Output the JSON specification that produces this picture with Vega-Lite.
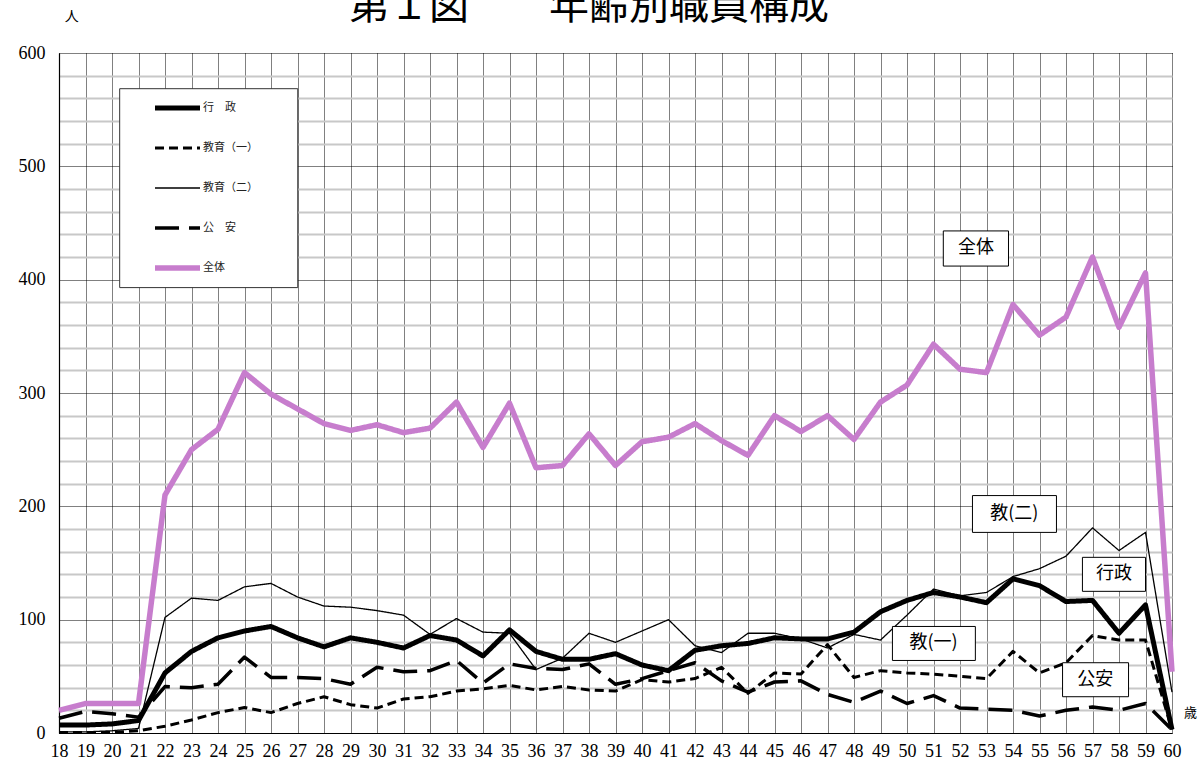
{
  "$schema": "https://vega.github.io/schema/vega-lite/v6.json",
  "width": 1113,
  "height": 680,
  "autosize": {"type": "none"},
  "padding": {"left": 59, "top": 53, "right": 29, "bottom": 36},
  "background": "white",
  "config": {"view": {"stroke": null}, "font": "Noto Sans CJK JP"},
  "resolve": {"axis": {"x": "independent", "y": "independent"}},
  "datasets": {
    "d": [
      {"age": 18, "行　政": 7, "教育（一）": 0.5, "教育（二）": 1, "公　安": 13, "全体": 20},
      {"age": 19, "行　政": 7, "教育（一）": 0.5, "教育（二）": 1, "公　安": 19, "全体": 26},
      {"age": 20, "行　政": 8, "教育（一）": 0.5, "教育（二）": 2, "公　安": 17, "全体": 26},
      {"age": 21, "行　政": 11, "教育（一）": 2, "教育（二）": 4, "公　安": 14, "全体": 26},
      {"age": 22, "行　政": 53, "教育（一）": 6, "教育（二）": 102, "公　安": 41, "全体": 210},
      {"age": 23, "行　政": 72, "教育（一）": 11.5, "教育（二）": 119, "公　安": 40, "全体": 250},
      {"age": 24, "行　政": 84, "教育（一）": 18, "教育（二）": 117, "公　安": 43, "全体": 268},
      {"age": 25, "行　政": 90, "教育（一）": 22.5, "教育（二）": 129, "公　安": 67, "全体": 318},
      {"age": 26, "行　政": 94, "教育（一）": 18, "教育（二）": 132, "公　安": 49, "全体": 299},
      {"age": 27, "行　政": 84, "教育（一）": 26, "教育（二）": 120, "公　安": 49, "全体": 286},
      {"age": 28, "行　政": 76, "教育（一）": 32, "教育（二）": 112, "公　安": 48, "全体": 273},
      {"age": 29, "行　政": 84, "教育（一）": 25, "教育（二）": 111, "公　安": 43, "全体": 267},
      {"age": 30, "行　政": 80, "教育（一）": 22, "教育（二）": 108, "公　安": 58, "全体": 272},
      {"age": 31, "行　政": 75, "教育（一）": 30, "教育（二）": 104, "公　安": 54, "全体": 265},
      {"age": 32, "行　政": 86, "教育（一）": 32, "教育（二）": 87, "公　安": 55, "全体": 269},
      {"age": 33, "行　政": 82, "教育（一）": 37, "教育（二）": 101, "公　安": 64, "全体": 292},
      {"age": 34, "行　政": 68, "教育（一）": 39, "教育（二）": 89, "公　安": 44, "全体": 252},
      {"age": 35, "行　政": 91, "教育（一）": 42, "教育（二）": 88, "公　安": 61, "全体": 291},
      {"age": 36, "行　政": 72, "教育（一）": 38, "教育（二）": 56, "公　安": 57, "全体": 234},
      {"age": 37, "行　政": 65, "教育（一）": 41, "教育（二）": 66, "公　安": 56, "全体": 236},
      {"age": 38, "行　政": 65, "教育（一）": 38, "教育（二）": 88, "公　安": 61, "全体": 264},
      {"age": 39, "行　政": 70, "教育（一）": 37, "教育（二）": 80, "公　安": 43, "全体": 236},
      {"age": 40, "行　政": 60, "教育（一）": 47, "教育（二）": 90, "公　安": 48, "全体": 257},
      {"age": 41, "行　政": 55, "教育（一）": 45, "教育（二）": 100, "公　安": 55, "全体": 261},
      {"age": 42, "行　政": 73, "教育（一）": 48, "教育（二）": 77, "公　安": 62, "全体": 273},
      {"age": 43, "行　政": 77, "教育（一）": 58, "教育（二）": 71, "公　安": 46, "全体": 258},
      {"age": 44, "行　政": 79, "教育（一）": 35, "教育（二）": 88, "公　安": 36, "全体": 245},
      {"age": 45, "行　政": 84, "教育（一）": 53, "教育（二）": 88, "公　安": 45, "全体": 280},
      {"age": 46, "行　政": 83, "教育（一）": 52, "教育（二）": 83, "公　安": 46, "全体": 266},
      {"age": 47, "行　政": 83, "教育（一）": 78, "教育（二）": 75, "公　安": 34, "全体": 280},
      {"age": 48, "行　政": 89, "教育（一）": 49, "教育（二）": 87, "公　安": 27, "全体": 259},
      {"age": 49, "行　政": 107, "教育（一）": 55, "教育（二）": 82, "公　安": 37, "全体": 292},
      {"age": 50, "行　政": 117, "教育（一）": 53, "教育（二）": 104, "公　安": 26, "全体": 307},
      {"age": 51, "行　政": 124, "教育（一）": 52, "教育（二）": 127, "公　安": 33, "全体": 343},
      {"age": 52, "行　政": 120, "教育（一）": 50, "教育（二）": 121, "公　安": 22, "全体": 321},
      {"age": 53, "行　政": 115, "教育（一）": 48, "教育（二）": 124, "公　安": 21, "全体": 318},
      {"age": 54, "行　政": 136, "教育（一）": 72, "教育（二）": 138, "公　安": 20, "全体": 378},
      {"age": 55, "行　政": 130, "教育（一）": 53, "教育（二）": 145, "公　安": 15, "全体": 351},
      {"age": 56, "行　政": 116, "教育（一）": 62, "教育（二）": 156, "公　安": 20, "全体": 367},
      {"age": 57, "行　政": 117, "教育（一）": 86, "教育（二）": 181, "公　安": 23, "全体": 420},
      {"age": 58, "行　政": 88, "教育（一）": 82, "教育（二）": 161, "公　安": 20, "全体": 358},
      {"age": 59, "行　政": 113, "教育（一）": 82, "教育（二）": 177, "公　安": 26, "全体": 406},
      {"age": 60, "行　政": 3, "教育（一）": 3, "教育（二）": 36, "公　安": 3, "全体": 54}
    ],
    "one": [{}]
  },
  "layer": [
    {
      "data": {"name": "d"},
      "transform": [{"fold": ["行　政", "教育（一）", "教育（二）", "公　安", "全体"], "as": ["系列", "人数"]}],
      "mark": {"type": "line", "strokeJoin": "round"},
      "encoding": {
        "x": {
          "field": "age", "type": "quantitative",
          "scale": {"domain": [18, 60], "nice": false, "zero": false},
          "axis": {
            "title": null,
            "values": [18,19,20,21,22,23,24,25,26,27,28,29,30,31,32,33,34,35,36,37,38,39,40,41,42,43,44,45,46,47,48,49,50,51,52,53,54,55,56,57,58,59,60],
            "grid": true, "gridColor": "#000", "gridDash": [1, 1], "gridWidth": 1, "gridOpacity": 1,
            "ticks": false, "domainColor": "#000", "domainWidth": 1.2,
            "labelFont": "Liberation Serif", "labelFontSize": 18, "labelColor": "#000",
            "labelPadding": 9, "labelFlush": false, "labelOverlap": false
          }
        },
        "y": {
          "field": "人数", "type": "quantitative",
          "scale": {"domain": [0, 600], "nice": false},
          "axis": {
            "title": null,
            "values": [0,20,40,60,80,100,120,140,160,180,200,220,240,260,280,300,320,340,360,380,400,420,440,460,480,500,520,540,560,580,600],
            "grid": true,
            "gridColor": {"condition": {"test": "datum.value % 100 === 0", "value": "#000"}, "value": "#c8c8c8"},
            "gridDash": {"condition": {"test": "datum.value % 100 === 0", "value": [1, 1]}, "value": []},
            "gridWidth": {"condition": {"test": "datum.value % 100 === 0", "value": 1.2}, "value": 2},
            "labelExpr": "datum.value % 100 === 0 ? datum.label : ''",
            "ticks": false, "domainColor": "#000", "domainWidth": 1.2,
            "labelFont": "Liberation Serif", "labelFontSize": 18, "labelColor": "#000",
            "labelPadding": 14, "labelOverlap": false
          }
        },
        "color": {
          "field": "系列", "type": "nominal",
          "scale": {"domain": ["行　政", "教育（一）", "教育（二）", "公　安", "全体"], "range": ["#000000", "#000000", "#000000", "#000000", "#c77dcd"]},
          "legend": {
            "orient": "none", "legendX": 61, "legendY": 35, "title": null,
            "symbolType": "stroke", "symbolSize": 2025, "clipHeight": 12, "rowPadding": 28,
            "padding": 14, "symbolOffset": 18, "labelOffset": 0,
            "labelFont": "Noto Sans CJK JP", "labelFontSize": 11, "labelColor": "#222"
          }
        },
        "strokeDash": {
          "field": "系列", "type": "nominal",
          "scale": {"domain": ["行　政", "教育（一）", "教育（二）", "公　安", "全体"], "range": [[1, 0], [9, 5], [1, 0], [24, 10], [1, 0]]}
        },
        "strokeWidth": {
          "field": "系列", "type": "nominal",
          "scale": {"type": "ordinal", "domain": ["行　政", "教育（一）", "教育（二）", "公　安", "全体"], "range": [5, 3, 1.3, 3.5, 5.5]}
        }
      }
    },
    {"data": {"name": "one"}, "mark": {"type": "rect", "fill": "white", "stroke": "#333", "strokeWidth": 1},
     "encoding": {"x": {"datum": 20.29, "axis": null}, "x2": {"datum": 27.01}, "y": {"datum": 568.5, "axis": null}, "y2": {"datum": 393}}},
    {"data": {"name": "one"}, "mark": {"type": "rect", "fill": "white", "stroke": "#000", "strokeWidth": 1},
     "encoding": {"x": {"datum": 51.37, "axis": null}, "x2": {"datum": 53.83}, "y": {"datum": 443, "axis": null}, "y2": {"datum": 412}}},
    {"data": {"name": "one"}, "mark": {"type": "rect", "fill": "white", "stroke": "#000", "strokeWidth": 1},
     "encoding": {"x": {"datum": 52.47, "axis": null}, "x2": {"datum": 55.64}, "y": {"datum": 209.5, "axis": null}, "y2": {"datum": 177}}},
    {"data": {"name": "one"}, "mark": {"type": "rect", "fill": "white", "stroke": "#000", "strokeWidth": 1},
     "encoding": {"x": {"datum": 56.62, "axis": null}, "x2": {"datum": 59.0}, "y": {"datum": 155, "axis": null}, "y2": {"datum": 125}}},
    {"data": {"name": "one"}, "mark": {"type": "rect", "fill": "white", "stroke": "#000", "strokeWidth": 1},
     "encoding": {"x": {"datum": 49.45, "axis": null}, "x2": {"datum": 52.58}, "y": {"datum": 94, "axis": null}, "y2": {"datum": 64}}},
    {"data": {"name": "one"}, "mark": {"type": "rect", "fill": "white", "stroke": "#000", "strokeWidth": 1},
     "encoding": {"x": {"datum": 55.87, "axis": null}, "x2": {"datum": 58.36}, "y": {"datum": 62, "axis": null}, "y2": {"datum": 32}}},
    {"data": {"name": "one"}, "mark": {"type": "text", "font": "Noto Sans CJK JP", "fontSize": 18, "color": "#000", "align": "center", "baseline": "middle", "text": "全体"},
     "encoding": {"x": {"datum": 52.6, "axis": null}, "y": {"datum": 428, "axis": null}}},
    {"data": {"name": "one"}, "mark": {"type": "text", "font": "Noto Sans CJK JP", "fontSize": 18, "color": "#000", "align": "center", "baseline": "middle", "text": "教(二)"},
     "encoding": {"x": {"datum": 54.05, "axis": null}, "y": {"datum": 193, "axis": null}}},
    {"data": {"name": "one"}, "mark": {"type": "text", "font": "Noto Sans CJK JP", "fontSize": 18, "color": "#000", "align": "center", "baseline": "middle", "text": "行政"},
     "encoding": {"x": {"datum": 57.81, "axis": null}, "y": {"datum": 140, "axis": null}}},
    {"data": {"name": "one"}, "mark": {"type": "text", "font": "Noto Sans CJK JP", "fontSize": 18, "color": "#000", "align": "center", "baseline": "middle", "text": "教(一)"},
     "encoding": {"x": {"datum": 51.0, "axis": null}, "y": {"datum": 79, "axis": null}}},
    {"data": {"name": "one"}, "mark": {"type": "text", "font": "Noto Sans CJK JP", "fontSize": 18, "color": "#000", "align": "center", "baseline": "middle", "text": "公安"},
     "encoding": {"x": {"datum": 57.1, "axis": null}, "y": {"datum": 47, "axis": null}}},
    {"data": {"name": "one"}, "mark": {"type": "text", "font": "Noto Sans CJK JP", "fontSize": 13, "color": "#000", "align": "center", "baseline": "middle", "text": "歳"},
     "encoding": {"x": {"datum": 60.7, "axis": null}, "y": {"datum": 17.5, "axis": null}}},
    {"data": {"name": "one"}, "mark": {"type": "text", "font": "Noto Sans CJK JP", "fontSize": 14, "color": "#000", "align": "center", "baseline": "middle", "text": "人"},
     "encoding": {"x": {"datum": 18.48, "axis": null}, "y": {"datum": 632, "axis": null}}},
    {"data": {"name": "one"}, "mark": {"type": "text", "font": "Noto Sans CJK JP", "fontSize": 40, "color": "#000", "align": "center", "baseline": "alphabetic", "text": "第１図　　年齢別職員構成"},
     "encoding": {"x": {"datum": 38.0, "axis": null}, "y": {"datum": 630, "axis": null}}}
  ]
}
